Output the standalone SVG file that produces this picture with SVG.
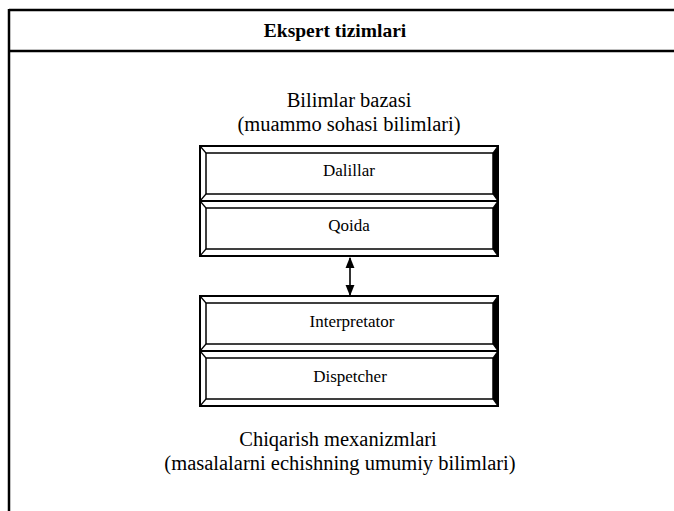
<svg xmlns="http://www.w3.org/2000/svg" width="674" height="511" viewBox="0 0 674 511">
<style>
.t{font-family:"Liberation Serif","Times New Roman",serif;fill:#000;text-anchor:middle}
.ln{stroke:#000;fill:none}
.o{stroke:#000;stroke-width:2;fill:#fff}
.i{stroke:#000;stroke-width:1.5;fill:#fff}
.b{stroke:#000;stroke-width:1.2}
.sh{fill:#000}
</style>
<defs>
<marker id="ah" viewBox="0 0 10 10" refX="9" refY="5" markerWidth="7" markerHeight="7" orient="auto-start-reverse">
<path d="M0,1 L10,5 L0,9 Z" fill="#000"/>
</marker>
<g id="cell">
<rect class="o" x="0" y="0" width="298" height="55"/>
<polygon class="sh" points="293,7 298,0 299,0 299,55 298,55 293,48"/>
<rect class="i" x="6" y="7" width="287" height="41"/>
<line class="b" x1="0" y1="0" x2="6" y2="7"/>
<line class="b" x1="0" y1="55" x2="6" y2="48"/>
<line class="b" x1="298" y1="0" x2="293" y2="7"/>
<line class="b" x1="298" y1="55" x2="293" y2="48"/>
</g>
</defs>
<g id="frame">
<line class="ln" x1="9" y1="10" x2="674" y2="10" stroke-width="2.5"/>
<line class="ln" x1="9" y1="51" x2="674" y2="51" stroke-width="2.5"/>
<line class="ln" x1="9" y1="9" x2="9" y2="511" stroke-width="2.5"/>
<text class="t" x="335" y="37" font-size="19.5" font-weight="bold">Ekspert tizimlari</text>
</g>
<g id="kb-label">
<text class="t" x="349" y="107" font-size="20.5">Bilimlar bazasi</text>
<text class="t" x="349" y="131" font-size="20.5">(muammo sohasi bilimlari)</text>
</g>
<g id="dalillar">
<use href="#cell" x="200" y="146"/>
<text class="t" x="349" y="176" font-size="17">Dalillar</text>
</g>
<g id="qoida">
<use href="#cell" x="200" y="201"/>
<text class="t" x="349" y="231" font-size="17">Qoida</text>
</g>
<g id="interpretator">
<use href="#cell" x="200" y="296"/>
<text class="t" x="352" y="327" font-size="17">Interpretator</text>
</g>
<g id="dispetcher">
<use href="#cell" x="200" y="351"/>
<text class="t" x="350" y="382" font-size="17">Dispetcher</text>
</g>
<g id="im-label">
<text class="t" x="338" y="446" font-size="20.5">Chiqarish mexanizmlari</text>
<text class="t" x="340" y="470" font-size="20.5">(masalalarni echishning umumiy bilimlari)</text>
</g>
<g id="connectors">
<line class="ln" x1="350" y1="258" x2="350" y2="295" stroke-width="1.6" marker-start="url(#ah)" marker-end="url(#ah)"/>
</g>
</svg>
